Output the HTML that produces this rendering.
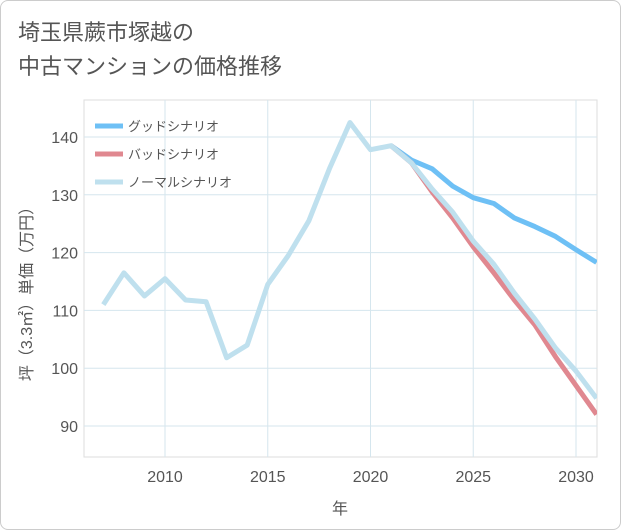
<!DOCTYPE html>
<html><head><meta charset="utf-8"><style>
body{margin:0;background:#fff;font-family:"Liberation Sans","Noto Sans CJK JP",sans-serif;}
#card{position:absolute;left:0;top:0;width:619px;height:528px;border:1px solid #ccc;border-radius:8px;background:#fff;}
#title{position:absolute;left:18px;top:16px;font-size:22px;line-height:34px;color:#555;}
</style></head><body>
<div id="card"></div>
<div id="title">埼玉県蕨市塚越の<br>中古マンションの価格推移</div>
<svg id="chart" width="621" height="530" style="position:absolute;left:0;top:0"></svg>
<script>
const years=[2007,2008,2009,2010,2011,2012,2013,2014,2015,2016,2017,2018,2019,2020,2021,2022,2023,2024,2025,2026,2027,2028,2029,2030,2031];
const normal=[111,116.5,112.5,115.5,111.8,111.5,101.8,104,114.5,119.5,125.5,134.5,142.5,137.8,138.5,135.5,131,127,122,118,113,108.5,103.5,99.5,94.8];
const goodYears=[2021,2022,2023,2024,2025,2026,2027,2028,2029,2030,2031];
const good=[138.5,136,134.5,131.5,129.5,128.5,126,124.5,122.8,120.5,118.3];
const bad=[138.5,135.5,130.5,126,121,116.5,111.8,107.5,102,97,92];
const xTicks=[2010,2015,2020,2025,2030];
const yTicks=[90,100,110,120,130,140];
const seriesNames=["グッドシナリオ","バッドシナリオ","ノーマルシナリオ"];
const L=84,R=597,T=100,B=457;
const x=v=>165+(v-2010)*20.55;
const y=v=>137+(140-v)*5.78;
const svg=document.getElementById('chart');const NS='http://www.w3.org/2000/svg';
function mk(t,a,p){const e=document.createElementNS(NS,t);for(const k in a)e.setAttribute(k,a[k]);(p||svg).appendChild(e);return e;}
let e;
e=mk('rect',{x:L,y:T,width:R-L,height:B-T,fill:'none',stroke:'#ddd'});


xTicks.forEach(t=>{
 e=mk('line',{x1:x(t),x2:x(t),y1:T,y2:B,stroke:'#d5e6ee'});
 
 
 e=mk('text',{x:x(t),y:482,'text-anchor':'middle','font-size':16,fill:'#555'});e.textContent=t;
 
 
});
yTicks.forEach(t=>{
 e=mk('line',{x1:L,x2:R,y1:y(t),y2:y(t),stroke:'#d5e6ee'});
 
 
 e=mk('text',{x:78,y:y(t)+6,'text-anchor':'end','font-size':16,fill:'#555'});e.textContent=t;
 
 
});
e=mk('text',{x:340,y:514,'text-anchor':'middle','font-size':16,fill:'#555'});e.textContent='年';


e=mk('text',{x:0,y:0,'text-anchor':'middle','font-size':16,fill:'#555',transform:'translate(32,290) rotate(-90)'});e.textContent='坪（3.3㎡）単価（万円）';


const clip=mk('clipPath',{id:'c'});mk('rect',{x:L,y:T,width:R-L,height:B-T},clip);
function line(xs,vs,col,name){
 const d=xs.map((v,i)=>(i?'L':'M')+x(v)+','+y(vs[i])).join('');
 const p=mk('path',{d:d,fill:'none',stroke:col,'stroke-width':5,'stroke-linejoin':'round','clip-path':'url(#c)'});
 
 
}
line(goodYears,good,'#6ec0f5','good-scenario-line');
line(goodYears,bad,'#e08890','bad-scenario-line');
line(years,normal,'#bfe0ee','normal-scenario-line');
const cols=['#6ec0f5','#e08890','#bfe0ee'];
seriesNames.forEach((n,i)=>{
 const yy=126+i*28;
 e=mk('line',{x1:95,x2:123,y1:yy,y2:yy,stroke:cols[i],'stroke-width':5});
 
 
 e=mk('text',{x:128,y:yy+5,'font-size':13,fill:'#555'});e.textContent=n;
 
 
});
</script>
</body></html>
